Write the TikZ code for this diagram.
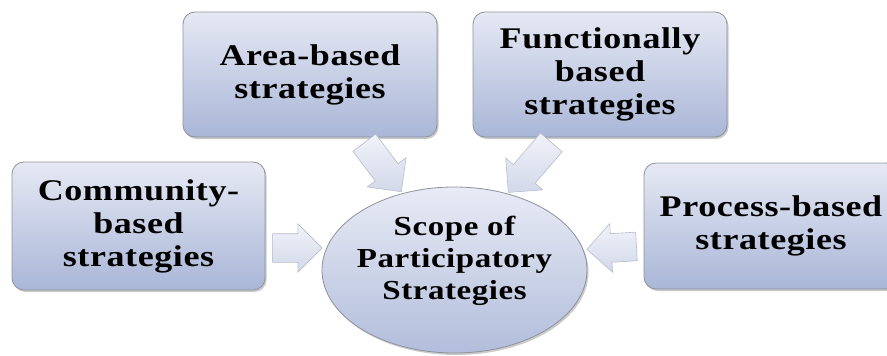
\documentclass[tikz,border=0pt]{standalone}
\usepackage{fontspec}
\setmainfont{Liberation Serif}[FakeStretch=1.2,LetterSpace=2]
\usetikzlibrary{shapes.geometric,shapes.arrows,shadows,calc}
\definecolor{boxtop}{HTML}{E6E9F4}
\definecolor{boxbot}{HTML}{A9B6D7}
\definecolor{boxline}{HTML}{8E929C}
\definecolor{arrtop}{HTML}{F1F3F9}
\definecolor{arrbot}{HTML}{D2D8EA}
\definecolor{arrline}{HTML}{B7BCC9}
\tikzset{
  stratbox/.style={rectangle,rounded corners=12pt,draw=boxline,line width=0.8pt,
    top color=boxtop,bottom color=boxbot,align=center,inner sep=0pt,
    font=\bfseries\fontsize{30}{33}\selectfont,
    drop shadow={shadow xshift=1.5pt,shadow yshift=-2pt,opacity=0.35,fill=black!60}},
  scopeell/.style={ellipse,draw=boxline,line width=0.8pt,
    top color=boxtop!90!white,bottom color=boxbot!90!white,inner sep=0pt,
    drop shadow={shadow xshift=1.5pt,shadow yshift=-2pt,opacity=0.35,fill=black!60}},
  scopetext/.style={align=center,inner sep=0pt,font=\bfseries\fontsize{27.5}{32}\selectfont},
  fatarrow/.style={single arrow,draw=arrline,line width=0.6pt,
    top color=arrtop,bottom color=arrbot,inner xsep=0pt,inner ysep=14pt,
    single arrow head extend=10pt,single arrow tip angle=90}
}
\begin{document}
\begin{tikzpicture}[x=1pt,y=-1pt]
  \useasboundingbox (0,0) rectangle (887,356);
  \clip (0,0) rectangle (887,356);
  % boxes
  \node[stratbox,minimum width=253pt,minimum height=128pt] (comm) at (138.5,226) {Community-\\based\\strategies};
  \node[stratbox,minimum width=254pt,minimum height=125pt] (area) at (310,74.5) {Area-based\\strategies};
  \node[stratbox,minimum width=254pt,minimum height=125pt] (func) at (600,74.5) {Functionally\\based\\strategies};
  \node[stratbox,minimum width=254pt,minimum height=126pt] (proc) at (771,226) {Process-based\\strategies};
  \node[scopeell,minimum width=265pt,minimum height=166pt] (scope) at (454.5,270) {};
  \node[scopetext] (scopelbl) at ($(scope.center)+(0,-9)$) {Scope of\\Participatory\\Strategies};
  % arrow ends
  \coordinate (commS) at ($(comm.east)+(0,22)$);
  \coordinate (commT) at (315,248);
  \coordinate (areaS) at (360,137);
  \coordinate (areaT) at (397,186);
  \coordinate (funcS) at (556,137);
  \coordinate (funcT) at (513,187);
  \coordinate (procS) at ($(proc.west)+(0,20)$);
  \coordinate (procT) at (594,249);
  % arrows
  \foreach \s/\t in {commS/commT,areaS/areaT,funcS/funcT,procS/procT}
    \path let \p1=($(\t)-(\s)$), \n1={atan2(\y1,\x1)}, \n2={veclen(\x1,\y1)} in
      node[fatarrow,minimum height=\n2,rotate=\n1] at ($(\s)!0.5!(\t)$) {};
\end{tikzpicture}
\end{document}
